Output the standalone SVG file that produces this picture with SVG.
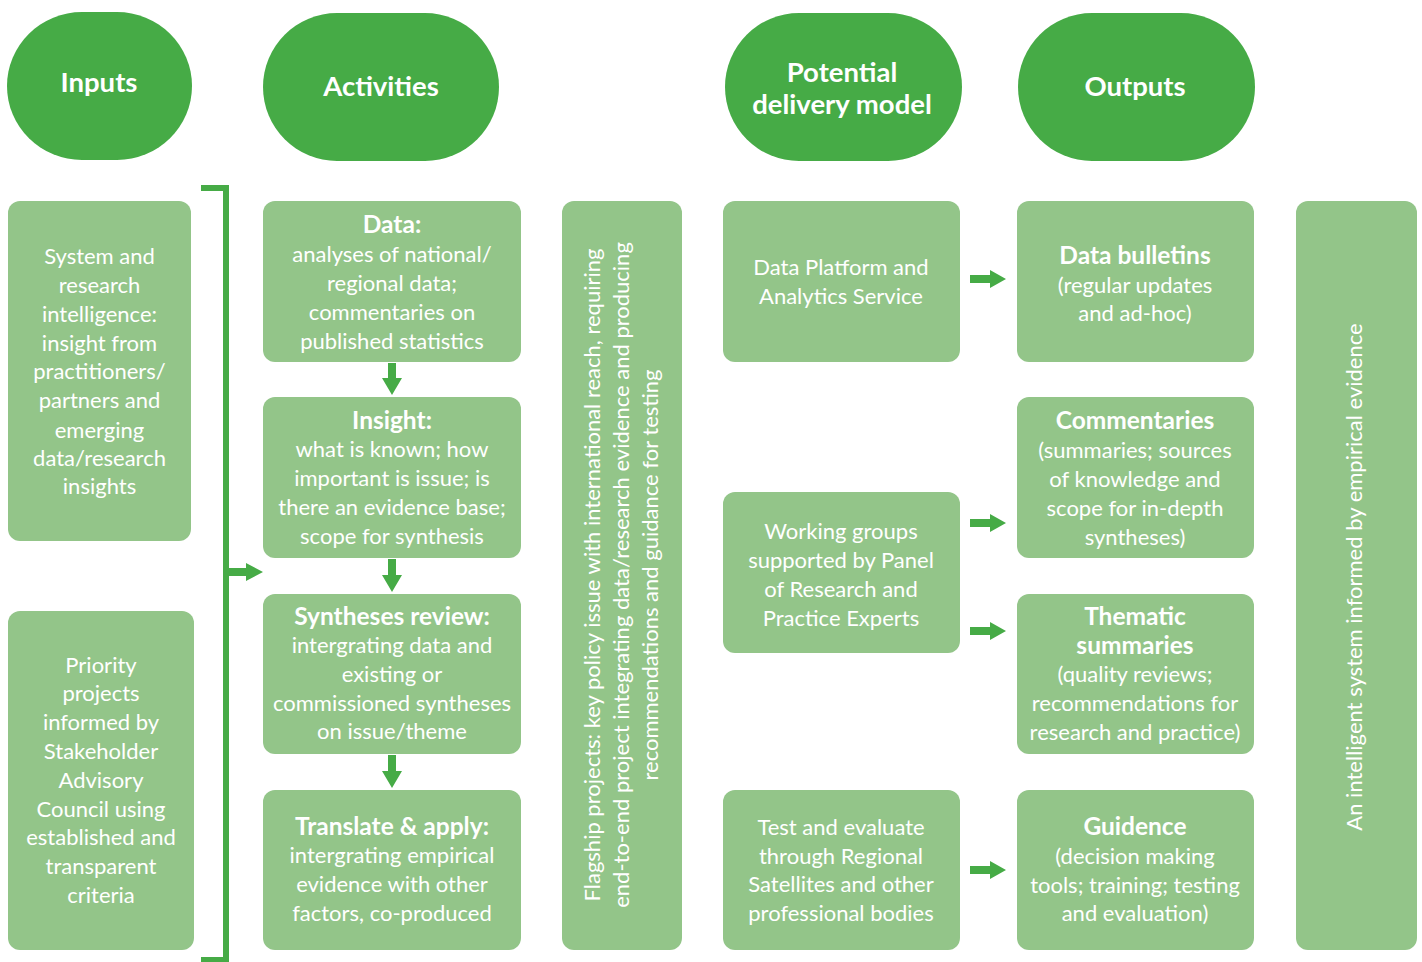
<svg xmlns="http://www.w3.org/2000/svg" width="1422" height="962" viewBox="0 0 1422 962">
<style>
.hdr{fill:#46ab46}
.box{fill:#93c589}
text{font-family:Lato,"Open Sans","Noto Sans",sans-serif;fill:#ffffff;text-anchor:middle}
.h{font-size:27.5px;font-weight:bold}
.t{font-size:22px}
.b{font-size:24.5px;font-weight:bold}
.arr{fill:#46ab46}
</style>
<rect width="1422" height="962" fill="#ffffff"/>
<g id="hdr-inputs"><rect class="hdr" x="7" y="12" width="185" height="148" rx="75" ry="74"/><text class="h" x="99" y="92">Inputs</text></g>
<g id="hdr-activities"><rect class="hdr" x="263" y="13" width="236" height="148" rx="74" ry="74"/><text class="h" x="381" y="96">Activities</text></g>
<g id="hdr-delivery"><rect class="hdr" x="725" y="13" width="237" height="148" rx="74" ry="74"/><text class="h" x="842" y="82">Potential</text><text class="h" x="842" y="114">delivery model</text></g>
<g id="hdr-outputs"><rect class="hdr" x="1018" y="13" width="237" height="148" rx="74" ry="74"/><text class="h" x="1135" y="96">Outputs</text></g>

<g id="input-intelligence"><rect class="box" x="8" y="201" width="183" height="340" rx="12"/>
<text class="t"><tspan x="99.5" y="264">System and</tspan><tspan x="99.5" y="293">research</tspan><tspan x="99.5" y="322">intelligence:</tspan><tspan x="99.5" y="351">insight from</tspan><tspan x="99.5" y="379">practitioners/</tspan><tspan x="99.5" y="408">partners and</tspan><tspan x="99.5" y="438">emerging</tspan><tspan x="99.5" y="466">data/research</tspan><tspan x="99.5" y="494">insights</tspan></text></g>
<g id="input-priority"><rect class="box" x="8" y="611" width="186" height="339" rx="12"/>
<text class="t"><tspan x="101" y="673">Priority</tspan><tspan x="101" y="701">projects</tspan><tspan x="101" y="730">informed by</tspan><tspan x="101" y="759">Stakeholder</tspan><tspan x="101" y="788">Advisory</tspan><tspan x="101" y="817">Council using</tspan><tspan x="101" y="845">established and</tspan><tspan x="101" y="874">transparent</tspan><tspan x="101" y="903">criteria</tspan></text></g>

<g id="act-data"><rect class="box" x="263" y="201" width="258" height="161" rx="12"/>
<text class="b" x="392" y="233">Data:</text>
<text class="t"><tspan x="392" y="262">analyses of national/</tspan><tspan x="392" y="291">regional data;</tspan><tspan x="392" y="320">commentaries on</tspan><tspan x="392" y="349">published statistics</tspan></text></g>
<g id="act-insight"><rect class="box" x="263" y="397" width="258" height="161" rx="12"/>
<text class="b" x="392" y="429">Insight:</text>
<text class="t"><tspan x="392" y="457">what is known; how</tspan><tspan x="392" y="486">important is issue; is</tspan><tspan x="392" y="515">there an evidence base;</tspan><tspan x="392" y="544">scope for synthesis</tspan></text></g>
<g id="act-syntheses"><rect class="box" x="263" y="594" width="258" height="160" rx="12"/>
<text class="b" x="392" y="625">Syntheses review:</text>
<text class="t"><tspan x="392" y="653">intergrating data and</tspan><tspan x="392" y="682">existing or</tspan><tspan x="392" y="711">commissioned syntheses</tspan><tspan x="392" y="739">on issue/theme</tspan></text></g>
<g id="act-translate"><rect class="box" x="263" y="790" width="258" height="160" rx="12"/>
<text class="b" x="392" y="835">Translate &amp; apply:</text>
<text class="t"><tspan x="392" y="863">intergrating empirical</tspan><tspan x="392" y="892">evidence with other</tspan><tspan x="392" y="921">factors, co-produced</tspan></text></g>

<g id="flagship"><rect class="box" x="562" y="201" width="120" height="749" rx="12"/>
<g transform="translate(622,575) rotate(-90)"><text class="t"><tspan x="0" y="-22">Flagship projects: key policy issue with international reach, requiring</tspan><tspan x="0" y="7">end-to-end project integrating data/research evidence and producing</tspan><tspan x="0" y="36">recommendations and guidance for testing</tspan></text></g></g>

<g id="del-platform"><rect class="box" x="723" y="201" width="237" height="161" rx="12"/>
<text class="t"><tspan x="841" y="275">Data Platform and</tspan><tspan x="841" y="304">Analytics Service</tspan></text></g>
<g id="del-working"><rect class="box" x="723" y="492" width="237" height="161" rx="12"/>
<text class="t"><tspan x="841" y="539">Working groups</tspan><tspan x="841" y="568">supported by Panel</tspan><tspan x="841" y="597">of Research and</tspan><tspan x="841" y="626">Practice Experts</tspan></text></g>
<g id="del-test"><rect class="box" x="723" y="790" width="237" height="160" rx="12"/>
<text class="t"><tspan x="841" y="835">Test and evaluate</tspan><tspan x="841" y="864">through Regional</tspan><tspan x="841" y="892">Satellites and other</tspan><tspan x="841" y="921">professional bodies</tspan></text></g>

<g id="out-bulletins"><rect class="box" x="1017" y="201" width="237" height="161" rx="12"/>
<text class="b" x="1135" y="264">Data bulletins</text>
<text class="t"><tspan x="1135" y="293">(regular updates</tspan><tspan x="1135" y="321">and ad-hoc)</tspan></text></g>
<g id="out-commentaries"><rect class="box" x="1017" y="397" width="237" height="161" rx="12"/>
<text class="b" x="1135" y="429">Commentaries</text>
<text class="t"><tspan x="1135" y="458">(summaries; sources</tspan><tspan x="1135" y="487">of knowledge and</tspan><tspan x="1135" y="516">scope for in-depth</tspan><tspan x="1135" y="545">syntheses)</tspan></text></g>
<g id="out-thematic"><rect class="box" x="1017" y="594" width="237" height="160" rx="12"/>
<text class="b"><tspan x="1135" y="625">Thematic</tspan><tspan x="1135" y="654">summaries</tspan></text>
<text class="t"><tspan x="1135" y="682">(quality reviews;</tspan><tspan x="1135" y="711">recommendations for</tspan><tspan x="1135" y="740">research and practice)</tspan></text></g>
<g id="out-guidence"><rect class="box" x="1017" y="790" width="237" height="160" rx="12"/>
<text class="b" x="1135" y="835">Guidence</text>
<text class="t"><tspan x="1135" y="864">(decision making</tspan><tspan x="1135" y="893">tools; training; testing</tspan><tspan x="1135" y="921">and evaluation)</tspan></text></g>

<g id="intelligent-system"><rect class="box" x="1296" y="201" width="121" height="749" rx="12"/>
<text class="t" transform="translate(1362,577) rotate(-90)" x="0" y="0">An intelligent system informed by empirical evidence</text></g>

<g id="connectors">
<path d="M201,188 H226 V962 M201,960 H226" fill="none" stroke="#46ab46" stroke-width="6"/>
<polygon class="arr" points="229,568 246,568 246,563 263,572 246,581 246,576 229,576"/>
<polygon class="arr" points="388,363 396,363 396,378 402,378 392,395 382,378 388,378"/>
<polygon class="arr" points="388,559 396,559 396,575 402,575 392,592 382,575 388,575"/>
<polygon class="arr" points="388,755 396,755 396,771 402,771 392,788 382,771 388,771"/>
<polygon class="arr" points="970,275 990,275 990,270 1006,279 990,288 990,283 970,283"/>
<polygon class="arr" points="970,519 990,519 990,514 1006,523 990,532 990,527 970,527"/>
<polygon class="arr" points="970,627 990,627 990,622 1006,631 990,640 990,635 970,635"/>
<polygon class="arr" points="970,866 990,866 990,861 1006,870 990,879 990,874 970,874"/>
</g>
</svg>
